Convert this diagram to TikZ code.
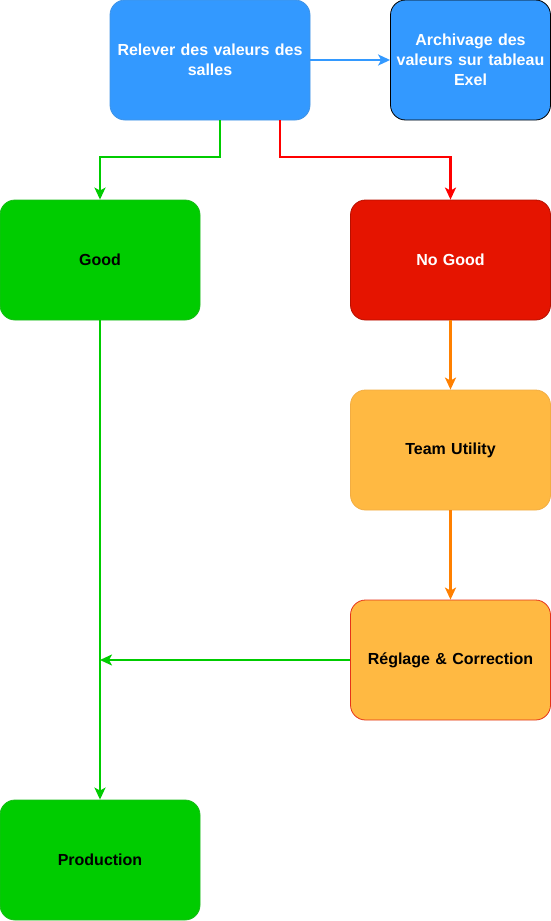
\documentclass[tikz,border=0pt]{standalone}
\usepackage{fontspec}
\setmainfont{Liberation Sans}
\usepackage{tikz}
\usetikzlibrary{arrows.meta}

\definecolor{boxblue}{HTML}{3399FF}
\definecolor{boxgreen}{HTML}{00CC00}
\definecolor{boxred}{HTML}{E51400}
\definecolor{boxorange}{HTML}{FFB942}
\definecolor{lineorange}{HTML}{FF8000}

\tikzset{
  box/.style={rectangle,rounded corners=15pt,minimum width=200pt,minimum height=120pt,inner xsep=2pt,
    text width=196pt,align=center,font=\bfseries\fontsize{16}{20}\selectfont,line width=0.8pt},
  flow/.style={line width=2.6pt,-{Stealth[length=12pt,width=11pt,inset=3pt]}}
}

\begin{document}
\begin{tikzpicture}[x=1pt,y=-1pt]
\useasboundingbox (0,0) rectangle (551,921);

\node[box,fill=boxblue,draw=boxblue!80!gray,text=white] (relever) at (210,60) {Relever des valeurs des\\salles};
\node[box,fill=boxblue,draw=black,text=white,minimum width=160pt,text width=156pt] (archive) at (470.5,60) {Archivage des\\valeurs sur tableau\\Exel};
\node[box,fill=boxgreen,draw=boxgreen!80!gray] (good) at (100,260) {Good};
\node[box,fill=boxred,draw=boxred!80!black,text=white] (nogood) at (450.5,260) {No Good};
\node[box,fill=boxorange,draw=boxorange!80!brown] (team) at (450.5,450) {Team Utility};
\node[box,fill=boxorange,draw=red!60!brown] (reglage) at (450.5,660) {Réglage \& Correction};
\node[box,fill=boxgreen,draw=boxgreen!80!gray] (prod) at (100,860) {Production};

\coordinate (join) at (100,660);

\draw[flow,boxblue] (relever.east) -- (archive.west);
\draw[flow,boxgreen] (relever.south -| 220,0) -- (220,157) -- (100,157) -- (good.north);
\draw[flow,red] (relever.south -| 280,0) -- (280,157) -- (450.5,157) -- (nogood.north);
\draw[flow,lineorange] (nogood.south) -- (team.north);
\draw[flow,lineorange] (team.south) -- (reglage.north);
\draw[flow,boxgreen] (good.south) -- (prod.north);
\draw[flow,boxgreen] (reglage.west) -- (join);
\end{tikzpicture}
\end{document}
